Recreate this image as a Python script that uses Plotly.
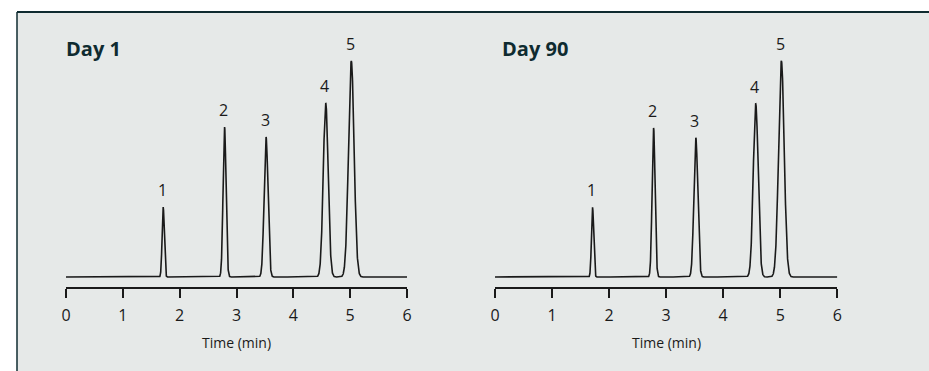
import numpy as np
import plotly.graph_objects as go

# Peak table for each run: retention time (min), relative height, peak width (sigma, min)
peak_labels = ["1", "2", "3", "4", "5"]
day1_rt = [1.71, 2.79, 3.52, 4.57, 5.02]
day1_height = [32.4, 69.4, 64.8, 80.6, 100.0]
day1_sigma = [0.019, 0.026, 0.034, 0.043, 0.049]

day90_rt = [1.71, 2.78, 3.52, 4.57, 5.02]
day90_height = [32.3, 69.0, 64.5, 80.2, 100.0]
day90_sigma = [0.019, 0.026, 0.034, 0.043, 0.049]

panel_titles = ["Day 1", "Day 90"]
tick_values = [0, 1, 2, 3, 4, 5, 6]
axis_title = "Time (min)"

W, H = 929, 371
INK = "#1a1a1a"
TITLE_INK = "#0f2b30"
BG = "#e6e9e8"


def trace_signal(t, rts, heights, sigmas):
    y = np.zeros_like(t)
    for rt, h, s in zip(rts, heights, sigmas):
        y += h * np.exp(-0.5 * ((t - rt) / s) ** 2)
    return y


t = np.linspace(0, 6, 4001)
runs = [
    (day1_rt, day1_height, day1_sigma),
    (day90_rt, day90_height, day90_sigma),
]

# pixel layout of the two plotting areas
x_px = [(66, 407), (495, 837.3)]
y_top_px, y_axis_px, y_base_px, y_peak_px = 30, 287, 277, 61
units_per_px = 100.0 / (y_base_px - y_peak_px)
y_min = -(y_axis_px - y_base_px) * units_per_px
y_max = (y_base_px - y_top_px) * units_per_px

fig = go.Figure()

for i, (rts, hs, ss) in enumerate(runs):
    xa = "x" if i == 0 else "x2"
    ya = "y" if i == 0 else "y2"
    fig.add_trace(go.Scatter(
        x=t, y=trace_signal(t, rts, hs, ss),
        mode="lines", line=dict(color=INK, width=1.6),
        xaxis=xa, yaxis=ya, showlegend=False, hoverinfo="skip",
    ))
    for lab, rt, h in zip(peak_labels, rts, hs):
        fig.add_annotation(
            x=rt, y=h, xref=xa, yref=ya, text=lab, showarrow=False,
            yanchor="middle", yshift=17, xshift=-1,
            font=dict(family="Open Sans", size=16, color=INK),
        )

common_x = dict(
    range=[0, 6], tickvals=tick_values, ticks="outside", ticklen=9,
    tickwidth=1.5, tickcolor=INK, showline=True, linewidth=1.5,
    linecolor=INK, showgrid=False, zeroline=False, ticklabelstandoff=4,
    tickfont=dict(family="Open Sans", size=16, color=INK),
    fixedrange=True, automargin=False,
)
common_y = dict(
    range=[y_min, y_max], visible=False, showgrid=False, zeroline=False,
    fixedrange=True, automargin=False,
)

dom_y = [1 - y_axis_px / H, 1 - y_top_px / H]
fig.update_layout(
    template="none",
    width=W, height=H,
    margin=dict(l=0, r=0, t=0, b=0, pad=0, autoexpand=False),
    paper_bgcolor=BG, plot_bgcolor="rgba(0,0,0,0)",
    xaxis=dict(domain=[x_px[0][0] / W, x_px[0][1] / W], anchor="y", **common_x),
    yaxis=dict(domain=dom_y, anchor="x", **common_y),
    xaxis2=dict(domain=[x_px[1][0] / W, x_px[1][1] / W], anchor="y2", **common_x),
    yaxis2=dict(domain=dom_y, anchor="x2", **common_y),
)

# white page band above and left of the panel, then the panel frame
frame_x, frame_y = 17 / W, 1 - 12 / H
fig.add_shape(type="rect", xref="paper", yref="paper",
              x0=-0.1, x1=1.1, y0=frame_y, y1=1.1,
              fillcolor="white", line=dict(width=0), layer="below")
fig.add_shape(type="rect", xref="paper", yref="paper",
              x0=-0.1, x1=frame_x, y0=-0.1, y1=1.1,
              fillcolor="white", line=dict(width=0), layer="below")
fig.add_shape(type="line", xref="paper", yref="paper",
              x0=frame_x, x1=1.1, y0=frame_y, y1=frame_y,
              line=dict(color=TITLE_INK, width=2))
fig.add_shape(type="line", xref="paper", yref="paper",
              x0=frame_x, x1=frame_x, y0=-0.1, y1=frame_y,
              line=dict(color=TITLE_INK, width=1.5))

title_x = [64, 500]
for i, (title, (x0, x1)) in enumerate(zip(panel_titles, x_px)):
    fig.add_annotation(
        x=title_x[i] / W, y=1 - 49 / H, xref="paper", yref="paper",
        text=f"<b>{title}</b>", showarrow=False, xanchor="left", yanchor="middle",
        font=dict(family="Open Sans", size=20, color=TITLE_INK),
    )
    fig.add_annotation(
        x=(x0 + x1) / 2 / W, y=1 - 342 / H, xref="paper", yref="paper",
        text=axis_title, showarrow=False, xanchor="center", yanchor="middle",
        font=dict(family="Open Sans", size=14, color=INK),
    )

fig.write_html("out.html", config={"displayModeBar": False})
